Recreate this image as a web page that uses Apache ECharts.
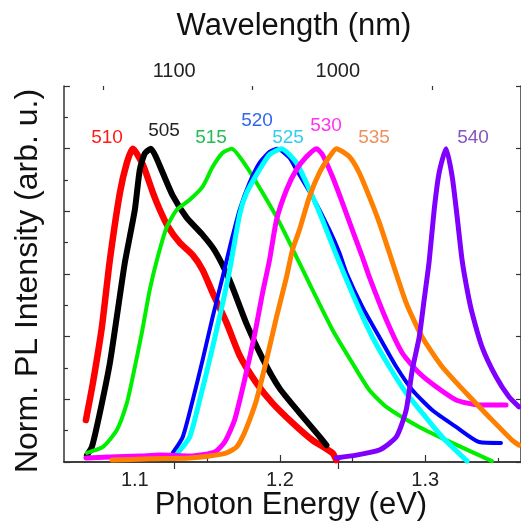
<!DOCTYPE html>
<html><head><meta charset="utf-8">
<script src="https://cdn.jsdelivr.net/npm/echarts@6/dist/echarts.min.js"></script>
<style>html,body{margin:0;padding:0;background:#fff}#c{width:521px;height:522px}</style>
</head><body><div id="c"></div>
<script>
// ---- data (photon energy eV, normalized intensity) ----
const pl510 = [[1.0663,0.134],[1.0711,0.252],[1.0773,0.431],[1.0828,0.645],[1.0897,0.859],[1.0945,0.955],[1.0986,1.0],[1.1055,0.949],[1.1124,0.860],[1.1172,0.805],[1.1227,0.752],[1.1309,0.700],[1.1399,0.660],[1.1467,0.613],[1.1536,0.540],[1.1632,0.444],[1.1722,0.340],[1.1838,0.252],[1.1948,0.188],[1.2086,0.125],[1.2223,0.070],[1.2361,0.029],[1.2388,0.006]];
const pl505 = [[1.0670,0.022],[1.0704,0.048],[1.0759,0.157],[1.0828,0.316],[1.0883,0.486],[1.0931,0.636],[1.1000,0.805],[1.1034,0.933],[1.1069,0.985],[1.1110,1.0],[1.1144,0.975],[1.1192,0.923],[1.1261,0.850],[1.1357,0.780],[1.1467,0.725],[1.1550,0.675],[1.1653,0.580],[1.1770,0.440],[1.1880,0.330],[1.1997,0.235],[1.2134,0.157],[1.2251,0.093],[1.2320,0.054]];
const pl515 = [[1.0670,0.029],[1.0780,0.048],[1.0876,0.102],[1.0945,0.188],[1.0986,0.272],[1.1048,0.412],[1.1103,0.550],[1.1158,0.655],[1.1220,0.750],[1.1289,0.805],[1.1378,0.837],[1.1467,0.879],[1.1536,0.942],[1.1605,0.987],[1.1667,1.0],[1.1770,0.942],[1.1880,0.859],[1.1997,0.764],[1.2113,0.655],[1.2223,0.550],[1.2361,0.422],[1.2498,0.316],[1.2615,0.230],[1.2732,0.176],[1.2959,0.112],[1.3186,0.061],[1.3460,0.003]];
const pl520 = [[1.1261,0.029],[1.1330,0.080],[1.1399,0.198],[1.1467,0.326],[1.1536,0.463],[1.1605,0.591],[1.1667,0.709],[1.1722,0.805],[1.1790,0.891],[1.1859,0.955],[1.1928,0.990],[1.1983,1.0],[1.2065,0.971],[1.2113,0.933],[1.2223,0.847],[1.2340,0.741],[1.2409,0.668],[1.2457,0.604],[1.2567,0.495],[1.2684,0.399],[1.2801,0.304],[1.2911,0.230],[1.3048,0.166],[1.3213,0.112],[1.3371,0.064],[1.3522,0.061]];
const pl525 = [[1.1296,0.029],[1.1378,0.080],[1.1447,0.198],[1.1515,0.326],[1.1584,0.463],[1.1653,0.613],[1.1722,0.790],[1.1770,0.859],[1.1859,0.933],[1.1928,0.981],[1.2010,1.0],[1.2113,0.955],[1.2203,0.869],[1.2292,0.773],[1.2388,0.660],[1.2526,0.508],[1.2636,0.399],[1.2753,0.304],[1.2869,0.220],[1.2979,0.157],[1.3117,0.080],[1.3289,0.003]];
const pl530 = [[1.0663,0.013],[1.0828,0.016],[1.1034,0.019],[1.1172,0.022],[1.1378,0.019],[1.1550,0.032],[1.1619,0.064],[1.1687,0.134],[1.1756,0.262],[1.1825,0.406],[1.1880,0.540],[1.1928,0.645],[1.1976,0.773],[1.2045,0.869],[1.2113,0.933],[1.2182,0.974],[1.2251,1.0],[1.2292,0.981],[1.2361,0.911],[1.2430,0.827],[1.2498,0.741],[1.2567,0.655],[1.2615,0.591],[1.2732,0.454],[1.2842,0.348],[1.2959,0.284],[1.3076,0.240],[1.3213,0.198],[1.3371,0.182],[1.3557,0.182]];
const pl535 = [[1.0842,0.006],[1.1103,0.010],[1.1378,0.013],[1.1515,0.019],[1.1632,0.029],[1.1701,0.048],[1.1742,0.080],[1.1790,0.134],[1.1838,0.198],[1.1907,0.326],[1.1976,0.463],[1.2045,0.591],[1.2086,0.677],[1.2134,0.741],[1.2203,0.847],[1.2271,0.923],[1.2340,0.974],[1.2388,1.0],[1.2478,0.974],[1.2546,0.923],[1.2615,0.847],[1.2684,0.764],[1.2753,0.668],[1.2869,0.508],[1.2979,0.399],[1.3117,0.304],[1.3282,0.220],[1.3440,0.144],[1.3598,0.070],[1.3646,0.054]];
const pl540 = [[1.2388,0.013],[1.2526,0.022],[1.2684,0.038],[1.2801,0.080],[1.2869,0.166],[1.2911,0.294],[1.2959,0.399],[1.2993,0.518],[1.3027,0.639],[1.3062,0.805],[1.3096,0.923],[1.3144,1.0],[1.3186,0.911],[1.3220,0.783],[1.3254,0.645],[1.3289,0.550],[1.3323,0.476],[1.3392,0.367],[1.3488,0.272],[1.3577,0.208],[1.3646,0.176]];

const seriesNames = ['510','505','515','520','525','530','535','540'];
const bottomMajorTicks = [1.1, 1.2, 1.3];
const bottomMinorTicks = [1.15, 1.25, 1.35];
const topMajorNm = [1100, 1000];
const topMinorNm = [1150, 1050, 950];
const HC = 1239.84;

const XMIN = 1.0512, XMAX = 1.366;
const lineColors = {'510':'#ff0000','505':'#000000','515':'#00ee00','520':'#0000ff','525':'#00ffff','530':'#ff00ff','535':'#ff8000','540':'#8000ff'};
const lineWidths = {'510':6.5,'505':6,'515':4,'520':4,'525':5,'530':5,'535':5,'540':5};
const labelColors = {'510':'#ff1a1a','505':'#222222','515':'#22bb55','520':'#3366ee','525':'#33ccee','530':'#ff33ee','535':'#ee9060','540':'#8855bb'};
const labelPos = {'510':[107,138],'505':[164,131],'515':[211,138],'520':[257,121],'525':[288,138],'530':[326,126],'535':[374,138],'540':[473,138]};
const dataMap = {'510':pl510,'505':pl505,'515':pl515,'520':pl520,'525':pl525,'530':pl530,'535':pl535,'540':pl540};
const drawOrder = ['510','505','515','520','525','530','535','540'];

const FONT = 'Liberation Sans, Arial, sans-serif';
const axisLine = {show:true, lineStyle:{color:'#333', width:1.5}};
const gridRect = {left:64, top:86, width:458, height:376};

const chart = echarts.init(document.getElementById('c'), null, {renderer:'canvas'});
const option = {
  animation:false,
  backgroundColor:'#fff',
  grid:[Object.assign({}, gridRect), Object.assign({}, gridRect)],
  xAxis:[
    {gridIndex:0, type:'value', position:'bottom', min:XMIN, max:XMAX,
     axisLine:axisLine, splitLine:{show:false},
     axisTick:{show:true, inside:true, length:7, customValues:bottomMajorTicks, lineStyle:{color:'#333', width:1.2}},
     axisLabel:{show:true, customValues:bottomMajorTicks, margin:8, fontSize:20, color:'#222', fontFamily:FONT, formatter:v=>v.toFixed(1)}},
    {gridIndex:0, type:'value', position:'top', min:XMIN, max:XMAX,
     axisLine:axisLine, splitLine:{show:false},
     axisTick:{show:true, inside:true, length:7, customValues:topMajorNm.map(n=>HC/n), lineStyle:{color:'#333', width:1.2}},
     axisLabel:{show:true, customValues:topMajorNm.map(n=>HC/n), margin:5, fontSize:20, color:'#222', fontFamily:FONT, formatter:v=>String(Math.round(HC/v))}},
    {gridIndex:1, type:'value', position:'bottom', min:XMIN, max:XMAX,
     axisLine:{show:false}, splitLine:{show:false}, axisLabel:{show:false},
     axisTick:{show:true, inside:true, length:4, customValues:bottomMinorTicks, lineStyle:{color:'#333', width:1.2}}},
    {gridIndex:1, type:'value', position:'top', min:XMIN, max:XMAX,
     axisLine:{show:false}, splitLine:{show:false}, axisLabel:{show:false},
     axisTick:{show:true, inside:true, length:4, customValues:topMinorNm.map(n=>HC/n), lineStyle:{color:'#333', width:1.2}}}
  ],
  yAxis:[
    {gridIndex:0, type:'value', position:'left', min:0, max:1.2, interval:0.2,
     axisLine:axisLine, splitLine:{show:false}, axisLabel:{show:false},
     axisTick:{show:true, inside:true, length:6, lineStyle:{color:'#333', width:1.2}},
     minorTick:{show:true, splitNumber:2, length:4, lineStyle:{color:'#333', width:1.2}}},
    {gridIndex:0, type:'value', position:'right', min:0, max:1.2, interval:0.2,
     axisLine:axisLine, splitLine:{show:false}, axisLabel:{show:false},
     axisTick:{show:true, inside:true, length:5, lineStyle:{color:'#333', width:1.2}}},
    {gridIndex:1, type:'value', min:0, max:1.2, show:false}
  ],
  series: drawOrder.map(k=>({
    name:k, type:'line', xAxisIndex:0, yAxisIndex:0, data:dataMap[k],
    showSymbol:false, symbol:'none', smooth:0.2, clip:true,
    lineStyle:{color:lineColors[k], width:lineWidths[k], join:'round', cap:'round'},
    z:2
  })),
  graphic:[
    {type:'text', x:294, y:26, style:{text:'Wavelength (nm)', fontSize:31, fontFamily:FONT, fill:'#111', align:'center', verticalAlign:'middle'}},
    {type:'text', x:291, y:505, style:{text:'Photon Energy (eV)', fontSize:31, fontFamily:FONT, fill:'#111', align:'center', verticalAlign:'middle'}},
    {type:'text', x:28, y:281, rotation:Math.PI/2, style:{text:'Norm. PL Intensity (arb. u.)', fontSize:32, fontFamily:FONT, fill:'#111', align:'center', verticalAlign:'middle'}}
  ].concat(seriesNames.map(k=>({
    type:'text', x:labelPos[k][0], y:labelPos[k][1], z:10,
    style:{text:k, fontSize:19, fontFamily:FONT, fill:labelColors[k], align:'center', verticalAlign:'middle'}
  })))
};
chart.setOption(option);
</script></body></html>
